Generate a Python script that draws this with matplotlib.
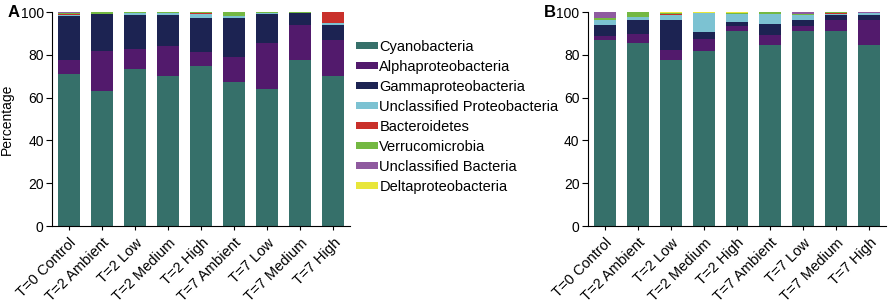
import matplotlib
matplotlib.use('Agg')
import matplotlib.pyplot as plt
from matplotlib.patches import Patch
import numpy as np

plt.rcParams['font.family'] = ['Liberation Sans', 'DejaVu Sans']

samples = ["T=0 Control", "T=2 Ambient", "T=2 Low", "T=2 Medium", "T=2 High",
           "T=7 Ambient", "T=7 Low", "T=7 Medium", "T=7 High"]

taxa = ["Cyanobacteria", "Alphaproteobacteria", "Gammaproteobacteria",
        "Unclassified Proteobacteria", "Bacteroidetes", "Verrucomicrobia",
        "Unclassified Bacteria", "Deltaproteobacteria"]

colors = ["#36706a", "#521a6c", "#1c2352", "#7cc2d2", "#c9302a", "#74b842",
          "#8f5a9f", "#e8e63a"]

# panel A, percentage per taxon (rows follow taxa order)
panel_a = [
    [71.0, 62.9, 73.3, 70.2, 74.6, 67.2, 64.1, 77.7, 70.2],
    [6.7, 18.7, 9.4, 14.0, 6.7, 11.9, 21.4, 16.1, 16.8],
    [20.5, 17.3, 16.1, 14.6, 16.0, 18.2, 13.6, 5.7, 7.1],
    [0.6, 0.1, 0.8, 0.7, 1.8, 0.7, 0.3, 0.0, 0.6],
    [0.2, 0.0, 0.0, 0.0, 0.4, 0.0, 0.0, 0.0, 5.1],
    [0.4, 1.0, 0.2, 0.5, 0.3, 1.8, 0.6, 0.3, 0.2],
    [0.6, 0.0, 0.2, 0.0, 0.0, 0.2, 0.0, 0.0, 0.0],
    [0.0, 0.0, 0.0, 0.0, 0.2, 0.0, 0.0, 0.2, 0.0],
]

# panel B
panel_b = [
    [86.7, 85.5, 77.7, 81.6, 90.9, 84.7, 90.9, 90.9, 84.4],
    [2.2, 4.2, 4.7, 5.9, 2.4, 4.7, 2.4, 5.2, 12.0],
    [5.2, 6.6, 13.9, 3.1, 1.9, 4.8, 2.8, 2.7, 2.2],
    [2.0, 1.4, 2.5, 8.9, 4.0, 4.9, 2.3, 0.3, 0.8],
    [0.0, 0.0, 0.4, 0.0, 0.0, 0.0, 0.0, 0.5, 0.0],
    [1.1, 2.3, 0.3, 0.0, 0.3, 0.9, 0.8, 0.4, 0.0],
    [2.8, 0.0, 0.2, 0.0, 0.0, 0.0, 0.8, 0.0, 0.6],
    [0.0, 0.0, 0.3, 0.5, 0.5, 0.0, 0.0, 0.0, 0.0],
]

fig = plt.figure(figsize=(8.92, 3.08), dpi=100)
ax_a = fig.add_axes([0.0583, 0.266, 0.334, 0.695])
ax_b = fig.add_axes([0.659, 0.266, 0.334, 0.695])

x = np.arange(len(samples))

def draw_panel(ax, data):
    bottom = np.zeros(len(samples))
    for vals, col in zip(data, colors):
        vals = np.array(vals)
        ax.bar(x, vals, width=0.667, bottom=bottom, color=col, linewidth=0)
        bottom += vals
    ax.set_xlim(-0.52, 8.5)
    ax.set_ylim(0, 100)
    ax.set_yticks([0, 20, 40, 60, 80, 100])
    ax.set_xticks(x)
    ax.set_xticklabels(samples, rotation=45, ha='right', rotation_mode='anchor',
                       fontsize=10.5)
    ax.tick_params(axis='y', labelsize=10, length=4, width=0.8, pad=2)
    ax.tick_params(axis='x', length=3, width=0.8, pad=4)
    for s in ['top', 'right']:
        ax.spines[s].set_visible(False)
    ax.spines['left'].set_linewidth(0.8)
    ax.spines['bottom'].set_linewidth(0.8)

draw_panel(ax_a, panel_a)
draw_panel(ax_b, panel_b)

ax_a.set_ylabel("Percentage", fontsize=10, labelpad=5)

fig.text(0.008, 0.958, "A", fontsize=12, fontweight='bold', va='center')
fig.text(0.610, 0.958, "B", fontsize=12, fontweight='bold', va='center')

handles = [Patch(facecolor=c, edgecolor='none') for c in colors]
fig.legend(handles, taxa, loc='upper left', bbox_to_anchor=(0.393, 0.89),
           frameon=False, fontsize=10.5, handlelength=1.45, handleheight=0.35,
           handletextpad=0.12, labelspacing=0.41, borderaxespad=0)

fig.savefig("out.png", dpi=100)
